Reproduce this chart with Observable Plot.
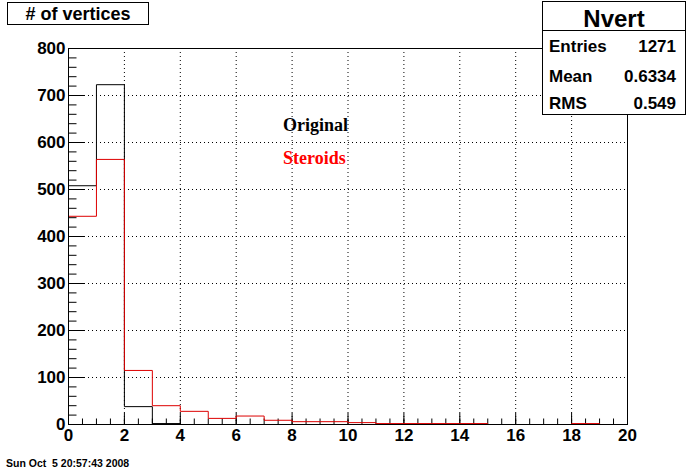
<!DOCTYPE html>
<html><head><meta charset="utf-8">
<script src="https://cdn.jsdelivr.net/npm/d3@7"></script>
<script src="https://cdn.jsdelivr.net/npm/@observablehq/plot@0.6"></script>
<style>
html,body{margin:0;padding:0;background:#fff;}
#wrap{width:688px;height:470px;}
</style></head><body><div id="wrap"></div>
<script>
// ---- data ----
const binStarts = [0,1,2,3,4,5,6,7,8,9,10,11,12,13,14,15,16,17,18,19];
const binWidth = 1;
const original = [508,723,38,2,0,0,0,0,0,0,0,0,0,0,0,0,0,0,0,0];
const steroids = [443,564,115,40,28,13,18,9,6,6,4,2,2,2,2,0,0,0,2,0];
const xTicks = [0,2,4,6,8,10,12,14,16,18,20];
const yTicks = [0,100,200,300,400,500,600,700,800];
const chartTitle = "# of vertices";
const statsTitle = "Nvert";
const statsLabels = ["Entries","Mean","RMS"];
const statsValues = ["1271","0.6334","0.549"];
const legendLabels = ["Original","Steroids"];
const legendColors = ["#000000","#ff0000"];
const dateText = "Sun Oct  5 20:57:43 2008";

// ---- layout ----
const W = 688, H = 470, mL = 68, mR = 61, mT = 48, mB = 46;
const pw = W - mL - mR, ph = H - mT - mB;
const sans = "'Liberation Sans', Arial, Helvetica, sans-serif";
const serif = "'Liberation Serif', 'Times New Roman', serif";

function steps(vals) {
  const pts = binStarts.map((x, i) => ({x, y: vals[i]}));
  pts.push({x: binStarts[binStarts.length - 1] + binWidth, y: vals[vals.length - 1]});
  return pts;
}
const minorX = d3.range(0, 20.001, 0.5);
const minorY = d3.range(0, 800.001, 20);
const innerX = xTicks.filter(v => v > 0 && v < 20);
const innerY = yTicks.filter(v => v > 0 && v < 800);

const chart = Plot.plot({
  width: W, height: H,
  marginLeft: mL, marginRight: mR, marginTop: mT, marginBottom: mB,
  x: {domain: [0, 20], label: null},
  y: {domain: [0, 800], label: null},
  style: {fontFamily: sans, fontWeight: "bold", background: "#fff", color: "#000"},
  marks: [
    Plot.gridX({ticks: innerX, stroke: "#000", strokeOpacity: 1, strokeDasharray: "1,3"}),
    Plot.gridY({ticks: innerY, stroke: "#000", strokeOpacity: 1, strokeDasharray: "1,3"}),
    Plot.tickX(minorX, {x: d => d, insetTop: ph - 5.5, stroke: "#000"}),
    Plot.tickX(xTicks, {x: d => d, insetTop: ph - 11, stroke: "#000"}),
    Plot.tickY(minorY, {y: d => d, insetRight: pw - 8.5, stroke: "#000"}),
    Plot.tickY(yTicks, {y: d => d, insetRight: pw - 17, stroke: "#000"}),
    Plot.line(steps(original), {x: "x", y: "y", curve: "step-after", stroke: legendColors[0], strokeWidth: 1}),
    Plot.line(steps(steroids), {x: "x", y: "y", curve: "step-after", stroke: "#dd0000", strokeWidth: 1}),
    Plot.frame({stroke: "#000"}),
    Plot.axisX({ticks: xTicks, tickSize: 0, tickPadding: 4, fontSize: 17, fontWeight: "bold", label: null}),
    Plot.axisY({ticks: yTicks, tickSize: 0, tickPadding: 3, fontSize: 17, fontWeight: "bold", label: null})
  ]
});
document.getElementById("wrap").appendChild(chart);

// ---- annotations (real text) ----
const svg = d3.select(chart);
const g = svg.append("g").attr("text-anchor", "start");
function txt(x, y, s, font, anchor, color) {
  return g.append("text").attr("x", x).attr("y", y).attr("text-anchor", anchor)
    .style("text-anchor", anchor).style("font", font).attr("fill", color).text(s);
}
// title box
g.append("rect").attr("x", 7.5).attr("y", 2.5).attr("width", 141).attr("height", 22)
  .attr("fill", "#fff").attr("stroke", "#000");
txt(78, 20, chartTitle, `bold 18px ${sans}`, "middle", "#000");
// stats box
g.append("rect").attr("x", 542.5).attr("y", 1.5).attr("width", 143).attr("height", 113)
  .attr("fill", "#fff").attr("stroke", "#000");
g.append("line").attr("x1", 542.5).attr("x2", 685.5).attr("y1", 30.5).attr("y2", 30.5).attr("stroke", "#000");
txt(614, 27, statsTitle, `bold 24px ${sans}`, "middle", "#000");
const rowY = [52, 82, 109];
statsLabels.forEach((lab, i) => {
  txt(549, rowY[i], lab, `bold 17px ${sans}`, "start", "#000");
  txt(676, rowY[i], statsValues[i], `bold 17px ${sans}`, "end", "#000");
});
// legend texts
const legY = [131, 164];
legendLabels.forEach((lab, i) => {
  txt(283, legY[i], lab, `bold 18px ${serif}`, "start", legendColors[i]);
});
// date (keep the double space visible)
txt(6, 467, dateText.replace(/ /g, "\u00A0"), `bold 10.5px ${sans}`, "start", "#000");
</script>
</body></html>
